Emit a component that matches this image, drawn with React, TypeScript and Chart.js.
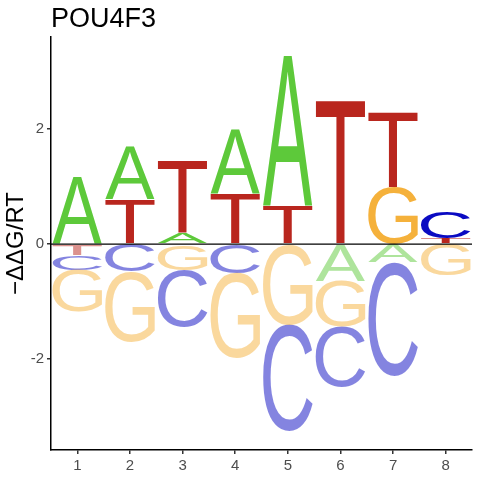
import React, { useEffect, useRef } from "react";
import { Chart, registerables } from "chart.js";

Chart.register(...registerables);

const FONT = "'Liberation Sans', Arial, Helvetica, sans-serif";

const positions = ["1", "2", "3", "4", "5", "6", "7", "8"];
const letters = ["A", "C", "G", "T"];
// signed letter heights (−ΔΔG/RT) per position
const heightA = [1.17, 0.92, 0.19, 1.11, 2.62, -0.64, -0.32, 0];
const heightC = [-0.26, -0.48, -0.99, -0.51, -1.85, -1.05, -1.96, 0.46];
const heightG = [-0.73, -1.22, -0.45, -1.48, -1.41, -0.8, 0.99, -0.55];
const heightT = [-0.19, 0.78, 1.25, 0.87, 0.65, 2.5, 1.29, 0.1];
const yTicks = [-2, 0, 2];
const yMin = -3.58;
const yMax = 3.6;

const letterColor: Record<string, string> = {
  A: "93,201,58",
  C: "10,10,194",
  G: "245,177,59",
  T: "185,38,30",
};

// stack letters: positives grow up from 0 (smallest first),
// negatives grow down from 0 (smallest magnitude first)
function stackLetters() {
  const heights: Record<string, number[]> = { A: heightA, C: heightC, G: heightG, T: heightT };
  const out: Record<string, ([number, number] | null)[]> = {};
  letters.forEach((l) => (out[l] = positions.map(() => null)));
  positions.forEach((_, i) => {
    const items = letters.map((l) => ({ l, v: heights[l][i] })).filter((d) => d.v !== 0);
    const pos = items.filter((d) => d.v > 0).sort((a, b) => a.v - b.v);
    const neg = items.filter((d) => d.v < 0).sort((a, b) => b.v - a.v);
    let acc = 0;
    pos.forEach((d) => {
      out[d.l][i] = [acc, acc + d.v];
      acc += d.v;
    });
    acc = 0;
    neg.forEach((d) => {
      out[d.l][i] = [acc + d.v, acc];
      acc += d.v;
    });
  });
  return out;
}

const logoPlugin = {
  id: "logoLetters",
  afterDatasetsDraw(chart: any) {
    const ctx = chart.ctx as CanvasRenderingContext2D;
    chart.data.datasets.forEach((ds: any, di: number) => {
      const meta = chart.getDatasetMeta(di);
      const ch = ds.label as string;
      const rgb = letterColor[ch];
      meta.data.forEach((el: any, i: number) => {
        const raw = ds.data[i];
        if (!raw) return;
        const { x, y, base, width } = el.getProps(["x", "y", "base", "width"], true);
        const top = Math.min(y, base);
        const h = Math.abs(base - y);
        if (h < 0.5) return;
        const neg = raw[1] <= 0;
        ctx.save();
        ctx.font = `200px ${FONT}`;
        ctx.textAlign = "left";
        ctx.textBaseline = "alphabetic";
        const m = ctx.measureText(ch);
        const gw = m.actualBoundingBoxLeft + m.actualBoundingBoxRight;
        const gh = m.actualBoundingBoxAscent + m.actualBoundingBoxDescent;
        ctx.translate(x - width / 2, top);
        ctx.scale(width / gw, h / gh);
        ctx.fillStyle = neg ? `rgba(${rgb},0.5)` : `rgb(${rgb})`;
        ctx.fillText(ch, m.actualBoundingBoxLeft, m.actualBoundingBoxAscent);
        ctx.restore();
      });
    });
    // zero line
    const { left, right } = chart.chartArea;
    const y0 = chart.scales.y.getPixelForValue(0);
    ctx.save();
    ctx.strokeStyle = "#000";
    ctx.lineWidth = 1.2;
    ctx.beginPath();
    ctx.moveTo(left, y0);
    ctx.lineTo(right, y0);
    ctx.stroke();
    ctx.restore();
  },
  afterDraw(chart: any) {
    const ctx = chart.ctx as CanvasRenderingContext2D;
    ctx.save();
    ctx.font = `27px ${FONT}`;
    ctx.fillStyle = "#000";
    ctx.textAlign = "left";
    ctx.textBaseline = "alphabetic";
    ctx.fillText("POU4F3", chart.chartArea.left, 26.5);
    ctx.restore();
  },
};

export default function App() {
  const canvasRef = useRef<HTMLCanvasElement | null>(null);

  useEffect(() => {
    if (!canvasRef.current) return;
    const stacks = stackLetters();
    const chart = new Chart(canvasRef.current, {
      type: "bar",
      data: {
        labels: positions,
        datasets: letters.map((l) => ({
          label: l,
          data: stacks[l] as any,
          backgroundColor: "rgba(0,0,0,0)",
          borderWidth: 0,
          grouped: false,
          categoryPercentage: 1,
          barPercentage: 0.94,
        })),
      },
      options: {
        animation: false,
        responsive: true,
        maintainAspectRatio: false,
        layout: { padding: { top: 37, right: 8, left: 0, bottom: 0 } },
        plugins: {
          legend: { display: false },
          tooltip: { enabled: false },
          title: { display: false },
        },
        scales: {
          x: {
            offset: true,
            ticks: { font: { size: 15, family: FONT }, color: "#4D4D4D", padding: 3 },
            grid: {
              display: true,
              drawOnChartArea: false,
              drawTicks: true,
              tickLength: 4,
              offset: false,
              color: "#333333",
              lineWidth: 1.5,
            },
            border: { display: true, color: "#000", width: 1.5 },
            afterFit: (s: any) => {
              s.height = 30;
            },
          },
          y: {
            min: yMin,
            max: yMax,
            afterBuildTicks: (s: any) => {
              s.ticks = yTicks.map((v) => ({ value: v }));
            },
            ticks: { font: { size: 15, family: FONT }, color: "#4D4D4D", padding: 3 },
            grid: {
              display: true,
              drawOnChartArea: false,
              drawTicks: true,
              tickLength: 4,
              color: "#333333",
              lineWidth: 1.5,
            },
            border: { display: true, color: "#000", width: 1.5 },
            title: {
              display: true,
              text: "−ΔΔG/RT",
              color: "#000",
              font: { size: 24, family: FONT },
              padding: { top: 2, bottom: 0 },
            },
            afterFit: (s: any) => {
              s.width = 51;
            },
          },
        },
      },
      plugins: [logoPlugin],
    });
    return () => chart.destroy();
  }, []);

  return (
    <div style={{ position: "fixed", left: 0, top: 0, width: 480, height: 480, background: "#fff" }}>
      <canvas ref={canvasRef} />
    </div>
  );
}
